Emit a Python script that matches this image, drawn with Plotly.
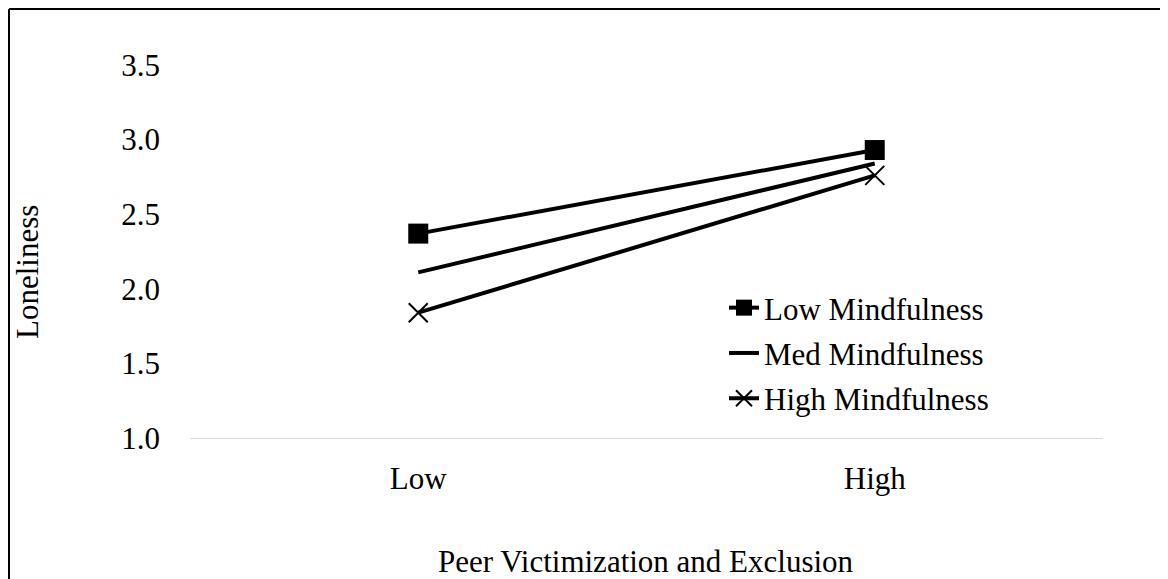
import plotly.graph_objects as go

categories = ["Low", "High"]
series_names = ["Low Mindfulness", "Med Mindfulness", "High Mindfulness"]
low_mind = [2.37, 2.93]
med_mind = [2.11, 2.84]
high_mind = [1.84, 2.76]
y_ticks = [1.0, 1.5, 2.0, 2.5, 3.0, 3.5]

FONT = "Liberation Serif, Times New Roman, serif"
FS = 31

fig = go.Figure()
fig.add_trace(go.Scatter(x=categories, y=low_mind, name=series_names[0], mode="lines+markers",
                         line=dict(color="black", width=4),
                         marker=dict(symbol="square", size=20, color="black"),
                         legendgroup="a"))
fig.add_trace(go.Scatter(x=categories, y=med_mind, name=series_names[1], mode="lines",
                         line=dict(color="black", width=4),
                         legendgroup="b"))
fig.add_trace(go.Scatter(x=categories, y=high_mind, name=series_names[2], mode="lines+markers",
                         line=dict(color="black", width=4),
                         marker=dict(symbol="x-thin-open", size=19, color="black",
                                     line=dict(color="black", width=2)),
                         legendgroup="c"))

# page offset of the figure (body margin)
OFF = 8
W, H = 1160, 571
L = 190 - OFF
T = 65 - OFF
R = W - (1103 - OFF)
B = H - (438 - OFF)
pw = W - L - R
ph = H - T - B


def px_x(x):
    return (x - OFF - L) / pw


def px_y(y):
    return (H - B - (y - OFF)) / ph


fig.update_layout(
    width=W, height=H,
    margin=dict(l=L, r=R, t=T, b=B),
    paper_bgcolor="white", plot_bgcolor="white",
    font=dict(family=FONT, size=FS, color="black"),
    showlegend=True,
    legend=dict(x=px_x(724), y=px_y(281), xanchor="left", yanchor="top",
                bgcolor="rgba(0,0,0,0)", font=dict(size=FS, family=FONT),
                tracegroupgap=2),
    xaxis=dict(range=[-0.5, 1.5], showgrid=False, showline=True, linecolor="#d9d9d9",
               linewidth=1, ticks="", ticklabelstandoff=13, tickfont=dict(size=FS),
               zeroline=False, fixedrange=True),
    yaxis=dict(range=[1.0, 3.5], tickvals=y_ticks, ticktext=[f"{v:.1f}" for v in y_ticks],
               showgrid=False, showline=False, zeroline=False, ticks="",
               ticklabelstandoff=29, tickfont=dict(size=FS), fixedrange=True),
    annotations=[
        dict(text="Loneliness", xref="paper", yref="paper", x=px_x(27), y=px_y(272),
             showarrow=False, textangle=-90, font=dict(size=FS, family=FONT),
             xanchor="center", yanchor="middle"),
        dict(text="Peer Victimization and Exclusion", xref="paper", yref="paper",
             x=px_x(646), y=px_y(561), showarrow=False,
             font=dict(size=FS, family=FONT), xanchor="center", yanchor="middle"),
    ],
    shapes=[
        dict(type="line", xref="paper", yref="paper", x0=px_x(9), x1=px_x(1250),
             y0=px_y(9), y1=px_y(9), line=dict(color="black", width=2)),
        dict(type="line", xref="paper", yref="paper", x0=px_x(9), x1=px_x(9),
             y0=px_y(9), y1=px_y(650), line=dict(color="black", width=2)),
    ],
)

fig.write_html("out.html")
